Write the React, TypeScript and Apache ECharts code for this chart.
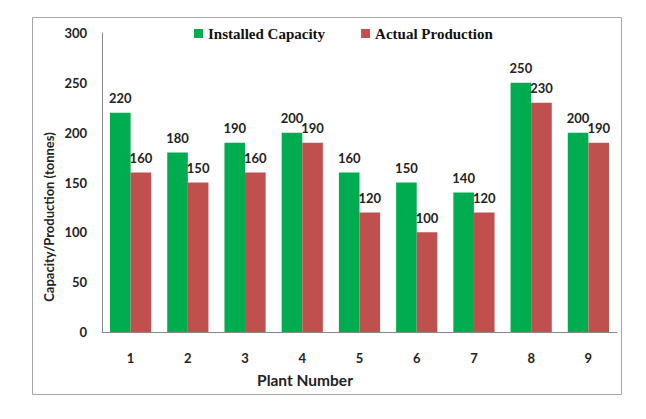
import React, { useEffect, useRef } from "react";
import * as echarts from "echarts";

const plants = ["1", "2", "3", "4", "5", "6", "7", "8", "9"];
const installedCapacity = [220, 180, 190, 200, 160, 150, 140, 250, 200];
const actualProduction = [160, 150, 160, 190, 120, 100, 120, 230, 190];
const yTicks = { min: 0, max: 300, interval: 50 };
const xTitle = "Plant Number";
const yTitle = "Capacity/Production (tonnes)";

const LABEL_FONT = "Lato, 'Open Sans', sans-serif";

export default function App() {
  const ref = useRef<HTMLDivElement>(null);
  useEffect(() => {
    if (!ref.current) return;
    const chart = echarts.init(ref.current, null, { renderer: "svg" });
    const labelStyle = {
      show: true,
      position: "top" as const,
      distance: 8,
      fontFamily: LABEL_FONT,
      fontWeight: "bold" as const,
      fontSize: 13,
      color: "#222",
    };
    chart.setOption({
      animation: false,
      backgroundColor: "#fff",
      graphic: [
        {
          type: "rect",
          left: 22,
          top: 7,
          shape: { width: 589, height: 377 },
          style: { fill: "none", stroke: "#a6a6a6", lineWidth: 1 },
          silent: true,
        },
        {
          type: "text",
          x: 41,
          y: 209,
          rotation: Math.PI / 2,
          style: {
            text: yTitle,
            align: "center",
            verticalAlign: "middle",
            fontFamily: LABEL_FONT,
            fontWeight: "bold",
            fontSize: 13,
            fill: "#222",
          },
          silent: true,
        },
        {
          type: "text",
          x: 297,
          y: 372,
          style: {
            text: xTitle,
            align: "center",
            verticalAlign: "middle",
            fontFamily: LABEL_FONT,
            fontWeight: "bold",
            fontSize: 15.5,
            fill: "#222",
          },
          silent: true,
        },
      ],
      legend: {
        top: 13,
        left: 181,
        itemWidth: 9,
        itemHeight: 9,
        itemGap: 36,
        icon: "rect",
        textStyle: {
          fontFamily: "'Liberation Serif', 'Times New Roman', serif",
          fontWeight: "bold",
          fontSize: 15,
          color: "#111",
        },
        data: ["Installed Capacity", "Actual Production"],
      },
      grid: { left: 94, right: 21, top: 25, bottom: 79 },
      xAxis: {
        type: "category",
        data: plants,
        axisLine: { lineStyle: { color: "#888", width: 1 } },
        axisTick: { show: false },
        axisLabel: {
          margin: 19,
          fontFamily: LABEL_FONT,
          fontWeight: "bold",
          fontSize: 13,
          color: "#222",
        },
      },
      yAxis: {
        type: "value",
        min: yTicks.min,
        max: yTicks.max,
        interval: yTicks.interval,
        axisLine: { show: true, lineStyle: { color: "#888", width: 1 } },
        axisTick: { show: false },
        splitLine: { show: false },
        axisLabel: {
          margin: 15,
          fontFamily: LABEL_FONT,
          fontWeight: "bold",
          fontSize: 13,
          color: "#222",
        },
      },
      series: [
        {
          name: "Installed Capacity",
          type: "bar",
          data: installedCapacity,
          barGap: "0%",
          barCategoryGap: "28%",
          itemStyle: { color: "#00ac50" },
          label: labelStyle,
        },
        {
          name: "Actual Production",
          type: "bar",
          data: actualProduction,
          barGap: "0%",
          barCategoryGap: "28%",
          itemStyle: { color: "#c0504d" },
          label: labelStyle,
        },
      ],
    });
    return () => chart.dispose();
  }, []);
  return <div ref={ref} style={{ width: 630, height: 403 }} />;
}
